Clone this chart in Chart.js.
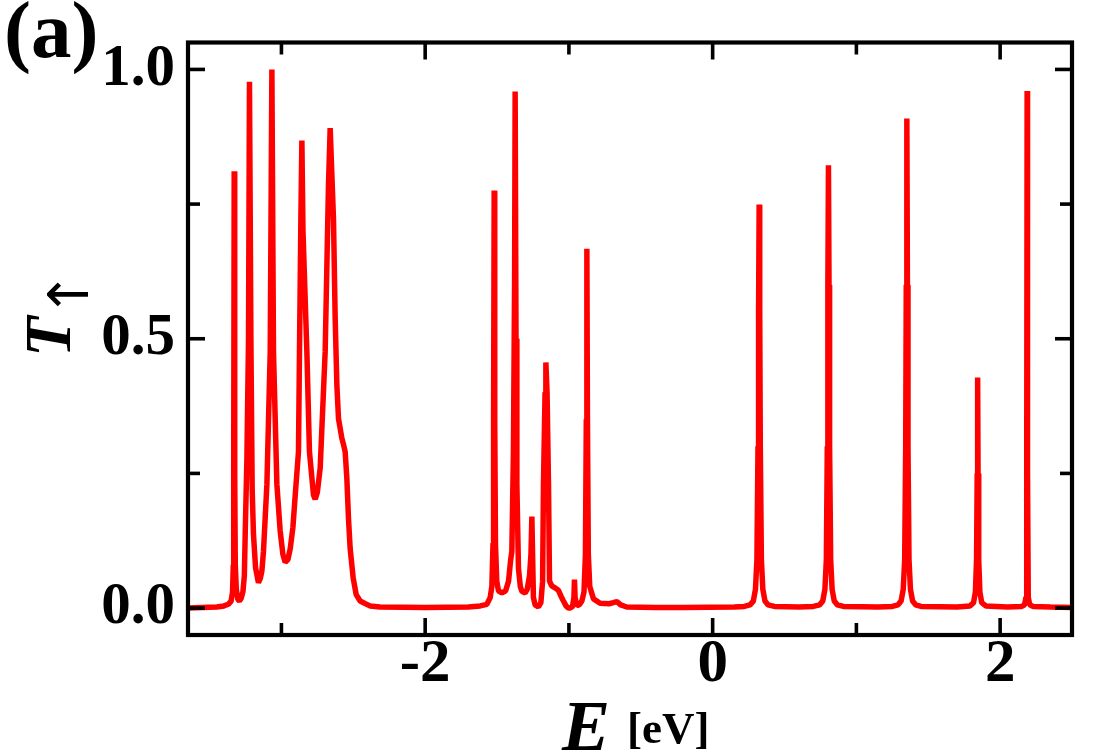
<!DOCTYPE html>
<html>
<head>
<meta charset="utf-8">
<script src="https://cdn.jsdelivr.net/npm/chart.js@4.4.1/dist/chart.umd.min.js"></script>
<style>
html,body{margin:0;padding:0;background:#fff;}
#wrap{width:1103px;height:750px;position:relative;}
</style>
</head>
<body>
<div id="wrap"><canvas id="c"></canvas></div>
<script>
// ---- data ----
// lower band (E < -2.3 eV)
const energyLow = [-3.65,-3.55,-3.45,-3.40,-3.37,-3.35,-3.34,-3.335,-3.332,-3.3287,-3.325,-3.321,-3.314,-3.303,-3.292,-3.28,-3.268,-3.258,-3.252,-3.24,-3.229,-3.2223,-3.2125,-3.2035,-3.1945,-3.18,-3.16,-3.147,-3.136,-3.125,-3.101,-3.078,-3.0664,-3.0553,-3.0317,-3.0087,-2.99,-2.974,-2.955,-2.939,-2.92,-2.904,-2.8814,-2.8744,-2.8647,-2.8577,-2.85,-2.823,-2.805,-2.777,-2.765,-2.75,-2.7304,-2.6957,-2.6727,-2.6609,-2.6379,-2.6261,-2.6143,-2.6031,-2.5795,-2.5704,-2.5565,-2.5447,-2.5336,-2.5217,-2.5009,-2.48,-2.4522,-2.40,-2.3826,-2.313];
const transLow  = [0.0,0.001,0.002,0.004,0.007,0.013,0.03,0.08,0.25,0.811,0.25,0.08,0.035,0.016,0.013,0.018,0.03,0.06,0.137,0.28,0.5,0.977,0.5,0.22,0.137,0.075,0.047,0.055,0.069,0.105,0.23,0.476,1.0,0.476,0.23,0.143,0.1,0.085,0.09,0.11,0.15,0.21,0.29,0.476,0.723,0.868,0.7,0.476,0.29,0.21,0.202,0.215,0.26,0.476,0.785,0.891,0.723,0.538,0.414,0.352,0.315,0.306,0.29,0.24,0.167,0.11,0.056,0.025,0.013,0.006,0.004,0.002];
// middle band (-2.3 .. -0.4 eV)
const energyMid = [-2.0,-1.70,-1.617,-1.571,-1.548,-1.536,-1.528,-1.524,-1.520,-1.516,-1.511,-1.502,-1.49,-1.466,-1.44,-1.42,-1.405,-1.397,-1.386,-1.378,-1.374,-1.368,-1.362,-1.351,-1.338,-1.327,-1.304,-1.29,-1.274,-1.264,-1.2577,-1.252,-1.247,-1.235,-1.212,-1.195,-1.183,-1.177,-1.166,-1.1603,-1.152,-1.142,-1.135,-1.119,-1.1,-1.073,-1.055,-1.038,-1.02,-1.003,-0.991,-0.975,-0.965,-0.9614,-0.957,-0.945,-0.925,-0.91,-0.895,-0.885,-0.879,-0.8751,-0.871,-0.865,-0.855,-0.829,-0.783,-0.72,-0.692,-0.666,-0.64,-0.597,-0.4];
const transMid  = [0.001,0.002,0.004,0.007,0.019,0.04,0.12,0.35,0.775,0.35,0.12,0.05,0.032,0.028,0.032,0.05,0.09,0.105,0.29,0.6,0.959,0.5,0.23,0.074,0.04,0.031,0.028,0.035,0.06,0.1,0.17,0.09,0.02,0.006,0.002,0.01,0.05,0.229,0.4,0.456,0.4,0.229,0.05,0.041,0.038,0.033,0.022,0.013,0.004,0.0,0.0,0.003,0.02,0.053,0.02,0.004,0.007,0.013,0.03,0.1,0.35,0.667,0.35,0.1,0.04,0.017,0.009,0.008,0.01,0.012,0.006,0.002,0.001];
// upper band (E > -0.4 eV), isolated resonances
const energyHigh = [-0.2,0.15,0.22,0.26,0.283,0.298,0.308,0.3155,0.3195,0.3235,0.3275,0.3315,0.339,0.349,0.364,0.385,0.43,0.60,0.70,0.745,0.766,0.781,0.791,0.7976,0.8016,0.8056,0.8096,0.8136,0.821,0.831,0.846,0.867,0.91,1.15,1.25,1.29,1.311,1.326,1.336,1.343,1.347,1.351,1.355,1.359,1.366,1.376,1.391,1.412,1.45,1.70,1.79,1.815,1.828,1.836,1.8405,1.8435,1.8465,1.851,1.859,1.872,1.90,2.05,2.15,2.17,2.18,2.185,2.1878,2.1906,2.1956,2.206,2.23,2.35,2.5];
const transHigh  = [0.001,0.002,0.003,0.006,0.013,0.035,0.09,0.3,0.55,0.749,0.55,0.3,0.09,0.035,0.013,0.006,0.003,0.002,0.003,0.006,0.013,0.035,0.09,0.3,0.6,0.822,0.6,0.3,0.09,0.035,0.013,0.006,0.003,0.002,0.003,0.006,0.013,0.035,0.09,0.3,0.6,0.909,0.6,0.3,0.09,0.035,0.013,0.006,0.003,0.002,0.004,0.01,0.03,0.09,0.25,0.428,0.25,0.09,0.03,0.01,0.004,0.002,0.003,0.006,0.02,0.25,0.96,0.25,0.02,0.006,0.003,0.002,0.001];

const xMajorTicks = [-2, 0, 2];
const xTickLabels = ['-2', '0', '2'];
const xMinorTicks = [-3, -1, 1];
const yMajorTicks = [0, 0.5, 1];
const yTickLabels = ['0.0', '0.5', '1.0'];
const yMinorTicks = [0.25, 0.75];

const energy = energyLow.concat(energyMid, energyHigh);
const trans = transLow.concat(transMid, transHigh);
const points = energy.map((e, i) => ({ x: e, y: trans[i] }));

const SERIF = '"Liberation Serif", "Times New Roman", serif';

const framePlugin = {
  id: 'frame',
  afterDatasetsDraw(chart) {
    const { ctx, chartArea: a, scales } = chart;
    const xs = scales.x, ys = scales.y;
    ctx.save();
    ctx.strokeStyle = '#000';
    ctx.lineCap = 'butt';
    const seg = (x1, y1, x2, y2) => { ctx.beginPath(); ctx.moveTo(x1, y1); ctx.lineTo(x2, y2); ctx.stroke(); };
    ctx.lineWidth = 3.6;
    const xt = (vals, len) => vals.forEach(v => {
      const p = xs.getPixelForValue(v);
      seg(p, a.bottom, p, a.bottom - len);
      seg(p, a.top, p, a.top + len);
    });
    const yt = (vals, len) => vals.forEach(v => {
      const p = ys.getPixelForValue(v);
      seg(a.left, p, a.left + len, p);
      seg(a.right, p, a.right - len, p);
    });
    xt(xMajorTicks, 17); xt(xMinorTicks, 12);
    yt(yMajorTicks, 17); yt(yMinorTicks, 12);
    ctx.lineWidth = 4.2;
    ctx.strokeRect(a.left, a.top, a.right - a.left, a.bottom - a.top);
    ctx.restore();
  }
};

const textPlugin = {
  id: 'texts',
  afterDraw(chart) {
    const { ctx, chartArea: a } = chart;
    ctx.save();
    ctx.fillStyle = '#000';
    ctx.textBaseline = 'alphabetic';
    ctx.textAlign = 'left';
    // panel label
    ctx.font = 'bold 81px ' + SERIF;
    ctx.fillText('(a)', 4, 57);
    // y axis title: T with subscript arrow, rotated
    ctx.save();
    ctx.translate(70, 357);
    ctx.rotate(-Math.PI / 2);
    ctx.font = 'italic bold 66px ' + SERIF;
    ctx.fillText('T', 0, 0);
    const w = ctx.measureText('T').width;
    ctx.font = '56px "DejaVu Sans", sans-serif';
    ctx.fillText('\u2191', w - 1, 18);
    ctx.restore();
    // x axis title: E [eV]
    const cx = (a.left + a.right) / 2;
    ctx.font = 'italic bold 72px ' + SERIF;
    ctx.fillText('E', cx - 68, 750);
    ctx.font = 'bold 45px ' + SERIF;
    ctx.fillText('[eV]', cx - 3, 743);
    ctx.restore();
  }
};

new Chart(document.getElementById('c'), {
  type: 'scatter',
  data: {
    datasets: [{
      data: points,
      showLine: true,
      borderColor: '#ff0000',
      backgroundColor: '#ff0000',
      borderWidth: 5.5,
      borderJoinStyle: 'bevel',
      pointRadius: 0,
      pointHoverRadius: 0,
      tension: 0,
      fill: false
    }]
  },
  options: {
    responsive: true,
    maintainAspectRatio: false,
    animation: false,
    events: [],
    layout: { padding: { top: 39.5, right: 31, left: 0, bottom: 0 } },
    plugins: { legend: { display: false }, tooltip: { enabled: false }, title: { display: false } },
    scales: {
      x: {
        type: 'linear', min: -3.65, max: 2.5,
        grid: { display: false, drawTicks: false }, border: { display: false },
        afterBuildTicks: s => { s.ticks = xMajorTicks.map(v => ({ value: v })); },
        afterFit: s => { s.height = 115; },
        ticks: {
          autoSkip: false, maxRotation: 0, minRotation: 0, padding: 0, color: '#000',
          font: { family: SERIF, weight: 'bold', size: 61, lineHeight: 1 },
          callback: (v, i) => xTickLabels[i]
        }
      },
      y: {
        type: 'linear', min: -0.05, max: 1.05,
        grid: { display: false, drawTicks: false }, border: { display: false },
        afterBuildTicks: s => { s.ticks = yMajorTicks.map(v => ({ value: v })); },
        afterFit: s => { s.width = 188; },
        ticks: {
          autoSkip: false, padding: 13, color: '#000',
          font: { family: SERIF, weight: 'bold', size: 59, lineHeight: 1 },
          callback: (v, i) => yTickLabels[i]
        }
      }
    }
  },
  plugins: [framePlugin, textPlugin]
});
</script>
</body>
</html>
